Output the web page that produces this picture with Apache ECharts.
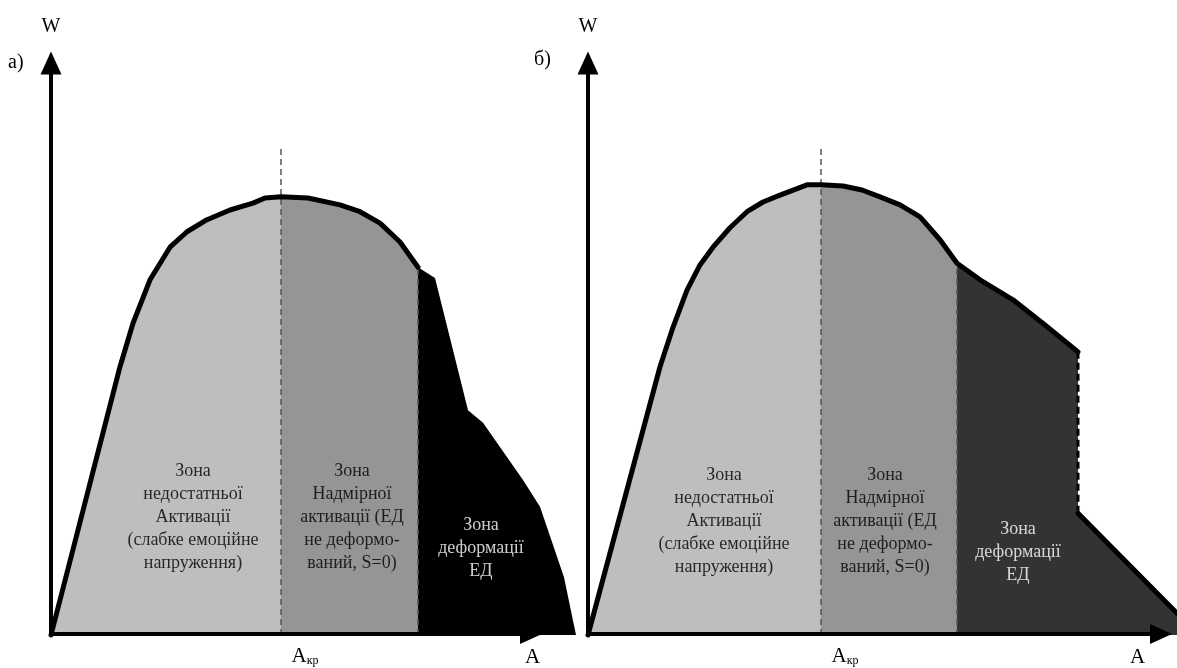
<!DOCTYPE html>
<html><head><meta charset="utf-8">
<script src="https://cdn.jsdelivr.net/npm/echarts/dist/echarts.min.js"></script>
<style>html,body{margin:0;padding:0;background:#fff}#c{width:1177px;height:668px}</style>
</head><body><div id="c"></div>
<script>
// ---- Panel а) : curve W(A) (arbitrary units, read from the picture)
const aCurve = [[0,0],[13.8,46.9],[16.4,54.5],[19.8,62.1],[23.8,67.8],[27.2,70.5],[31.2,72.6],[35.8,74.3],[40.4,75.5],[42.8,76.4],[46,76.6],[51.4,76.4],[57.8,75.2],[61.8,74.0],[65.8,72.0],[69.8,68.7],[73.4,64.3]];
const aDeform = [[73.4,64.3],[76.8,62.4],[83.4,39.3],[86.4,37.1],[94.4,27.1],[97.8,22.4],[102.6,10.1],[105,0]];
const aKr = 46;        // A_кр
const aSplit = 73.4;   // start of deformation zone
// ---- Panel б)
const bCurve = [[0,0],[14.4,46.9],[17,53.8],[19.8,60.3],[22.4,64.7],[25,67.8],[28.4,71.2],[31.8,74.0],[35,75.7],[38.4,76.9],[43.8,78.7],[46.6,78.7],[51,78.5],[54.8,77.8],[58.4,76.6],[62.4,75.2],[66.4,73.1],[70.4,69.1],[73.8,65.0]];
const bDeformTop = [[73.8,65.0],[78.4,62.1],[85,58.6],[91.4,54.2],[98,49.5]];
const bDrop = [[98,49.5],[98,21.3]];
const bTail = [[98,21.3],[117.8,3.8]];
const bKr = 46.6;
const bSplit = 73.8;
const krTop = 85.3;    // top of the A_кр dashed line
// ---- texts
const zoneTexts = ['Зона\nнедостатньої\nАктивації\n(слабке емоційне\nнапруження)', 'Зона\nНадмірної\nактивації (ЕД\nне деформо-\nваний, S=0)', 'Зона\nдеформації\nЕД'];
const aLabelPos = [[28.4,20.6],[60.2,20.6],[86,15.2]];
const bLabelPos = [[27.2,19.9],[59.4,19.9],[86,14.5]];
const panelTitles = ['а)', 'б)'];
const axisNameW = 'W', axisNameA = 'A';

const FONT = 'Liberation Serif';
const chart = echarts.init(document.getElementById('c'));

function curveAt(curve, x) {
  for (let i = 1; i < curve.length; i++) {
    const p = curve[i-1], q = curve[i];
    if (x >= p[0] && x <= q[0]) { const t = (x - p[0]) / ((q[0]-p[0]) || 1); return p[1] + t*(q[1]-p[1]); }
  }
  return 0;
}
function upTo(curve, x) { return curve.filter(p => p[0] <= x); }
function from(curve, x) { return curve.filter(p => p[0] >= x); }

// data series live on wider hidden grids (2,3) so the shapes may run past the drawn axis arrows
function area(data, color, xi, z) {
  return { type: 'line', xAxisIndex: xi, yAxisIndex: xi, data: data, showSymbol: false, symbol: 'none', clip: false,
    lineStyle: { width: 0, opacity: 0 }, areaStyle: { color: color, opacity: 1 }, z: z || 2, silent: true };
}
function line(data, xi, style, z) {
  return { type: 'line', xAxisIndex: xi, yAxisIndex: xi, data: data, showSymbol: false, symbol: 'none', clip: false,
    lineStyle: style, z: z || 4, silent: true };
}
function labels(pos, xi, colors) {
  return { type: 'scatter', xAxisIndex: xi, yAxisIndex: xi, symbolSize: 1, itemStyle: { color: 'rgba(0,0,0,0)' }, z: 6, silent: true,
    data: pos.map((p, i) => ({ name: zoneTexts[i], value: p, label: { color: colors[i] } })),
    label: { show: true, position: 'inside', formatter: '{b}', fontFamily: FONT, fontSize: 18, lineHeight: 23, align: 'center' } };
}
function xAxis(gi, max, kr, gap) {
  return { gridIndex: gi, type: 'value', min: 0, max: max, interval: kr, z: 5,
    axisLine: { show: true, symbol: ['none', 'triangle'], symbolSize: [20, 22], lineStyle: { color: '#000', width: 4 } },
    axisTick: { show: false }, splitLine: { show: false },
    axisLabel: { show: true, margin: 11, padding: [0, 0, 0, 48],
      formatter: v => Math.abs(v - kr) < 0.01 ? '{a|A}{s|кр}' : '',
      rich: { a: { fontFamily: FONT, fontSize: 21, color: '#000' }, s: { fontFamily: FONT, fontSize: 12, color: '#000', padding: [10, 0, 0, 0] } } },
    name: axisNameA, nameLocation: 'end', nameGap: gap,
    nameTextStyle: { fontFamily: FONT, fontSize: 21, color: '#000', verticalAlign: 'top', padding: [13, 0, 0, 0] } };
}
function yAxis(gi) {
  return { gridIndex: gi, type: 'value', min: 0, max: 100, z: 5,
    axisLine: { show: true, symbol: ['none', 'triangle'], symbolSize: [21, 23], lineStyle: { color: '#000', width: 4 } },
    axisTick: { show: false }, splitLine: { show: false }, axisLabel: { show: false },
    name: axisNameW, nameLocation: 'end', nameGap: 26,
    nameTextStyle: { fontFamily: FONT, fontSize: 20, color: '#000' } };
}
function hiddenX(gi, max) { return { gridIndex: gi, type: 'value', min: 0, max: max, show: false }; }
function hiddenY(gi) { return { gridIndex: gi, type: 'value', min: 0, max: 100, show: false }; }

const dashStyle = { color: '#555', width: 1.5, type: [6, 4] };
const outline = { color: '#000', width: 5, cap: 'round', join: 'round' };

const aYsplit = curveAt(aCurve, aSplit), bYsplit = curveAt(bCurve, bSplit);

chart.setOption({
  animation: false,
  backgroundColor: '#fff',
  title: [
    { text: panelTitles[0], left: 8, top: 53, padding: 0, textStyle: { fontFamily: FONT, fontSize: 20, fontWeight: 'normal', color: '#000' } },
    { text: panelTitles[1], left: 534, top: 50, padding: 0, textStyle: { fontFamily: FONT, fontSize: 20, fontWeight: 'normal', color: '#000' } }
  ],
  grid: [
    { left: 51, top: 63, width: 480, height: 572 },
    { left: 588, top: 63, width: 573, height: 572 },
    { left: 51, top: 63, width: 530, height: 572 },
    { left: 588, top: 63, width: 589, height: 572 }
  ],
  xAxis: [xAxis(0, 96, aKr, -6), xAxis(1, 114.6, bKr, -31), hiddenX(2, 106), hiddenX(3, 117.8)],
  yAxis: [yAxis(0), yAxis(1), hiddenY(2), hiddenY(3)],
  series: [
    // panel а
    area(upTo(aCurve, aKr), '#bebebe', 2),
    area(from(aCurve, aKr), '#959595', 2),
    area(aDeform, '#000000', 2),
    line([[aKr, 0], [aKr, krTop]], 2, dashStyle, 3),
    line([[aSplit, 0], [aSplit, aYsplit]], 2, dashStyle, 3),
    line(aCurve, 2, outline, 4),
    labels(aLabelPos, 2, ['#000', '#000', '#fff']),
    // panel б
    area(upTo(bCurve, bKr), '#bebebe', 3),
    area(from(bCurve, bKr), '#959595', 3),
    area(bDeformTop.concat(bDrop.slice(1), bTail.slice(1)), '#333333', 3),
    line([[bKr, 0], [bKr, krTop]], 3, dashStyle, 3),
    line([[bSplit, 0], [bSplit, bYsplit]], 3, dashStyle, 3),
    line(bCurve.concat(bDeformTop.slice(1)), 3, outline, 4),
    line(bDrop, 3, { color: '#000', width: 3, type: [7, 4] }, 4),
    line(bTail, 3, outline, 4),
    labels(bLabelPos, 3, ['#000', '#000', '#fff'])
  ]
});
</script></body></html>
